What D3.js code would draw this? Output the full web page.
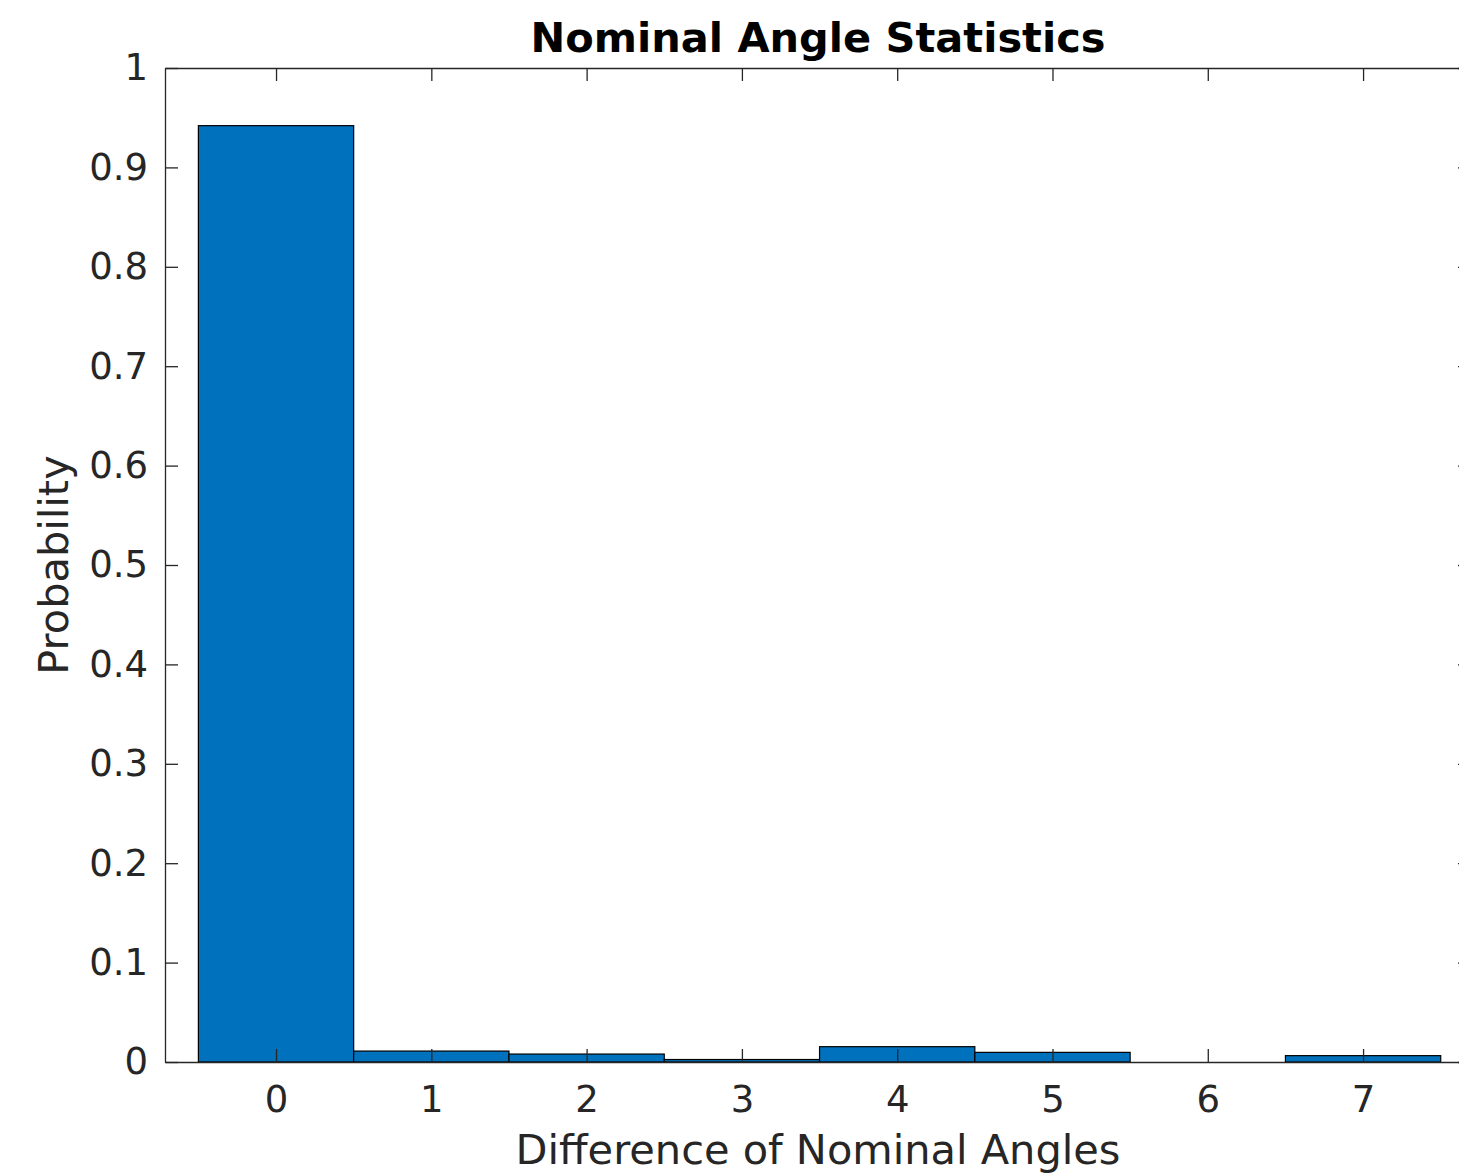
<!DOCTYPE html>
<html>
<head>
<meta charset="utf-8">
<style>
  body { margin: 0; background: #fff; overflow: hidden; }
  svg text { font-family: "DejaVu Sans", sans-serif; fill: #262626; }
  .bar { fill: #0072bd; stroke: #000; stroke-width: 1.2; }
  .axis path, .axis line { stroke: #262626; stroke-width: 1.3; }
</style>
</head>
<body>
<svg width="1459" height="1176"></svg>
<script src="https://cdn.jsdelivr.net/npm/d3@7"></script>
<script>

// histogram bins (difference of nominal angles) and probabilities
var bins = [0, 1, 2, 3, 4, 5, 6, 7];
var probability = [0.942, 0.011, 0.008, 0.0025, 0.0154, 0.0097, 0, 0.0064];
var xTicks = [0, 1, 2, 3, 4, 5, 6, 7];
var yTicks = [0, 0.1, 0.2, 0.3, 0.4, 0.5, 0.6, 0.7, 0.8, 0.9, 1];

var plotLeft = 165, plotRight = 1471, plotTop = 68, plotBottom = 1062;
var tickLen = 13;

var svg = d3.select("svg");

var x = d3.scaleLinear()
  .domain([-0.715, 7.695])
  .range([plotLeft, plotRight]);

var y = d3.scaleLinear()
  .domain([0, 1])
  .range([plotBottom, plotTop]);

// bars
svg.selectAll(".bar")
  .data(bins)
  .join("rect")
  .classed("bar", true)
  .attr("x", function(d) { return x(d - 0.5); })
  .attr("width", function(d) { return x(d + 0.5) - x(d - 0.5); })
  .attr("y", function(d, i) { return y(probability[i]); })
  .attr("height", function(d, i) { return plotBottom - y(probability[i]); });

// bottom axis, ticks pointing in
var xAxis = svg.append("g")
  .attr("class", "axis")
  .attr("transform", "translate(0," + plotBottom + ")")
  .call(d3.axisBottom(x).tickValues(xTicks).tickSizeInner(-tickLen).tickSizeOuter(0).tickPadding(24));
xAxis.selectAll("text").style("font-size", "37px");

// top axis
svg.append("g")
  .attr("class", "axis")
  .attr("transform", "translate(0," + plotTop + ")")
  .call(d3.axisTop(x).tickValues(xTicks).tickSizeInner(-tickLen).tickSizeOuter(0).tickFormat(""));

// left axis
var yAxis = svg.append("g")
  .attr("class", "axis")
  .attr("transform", "translate(" + plotLeft + ",0)")
  .call(d3.axisLeft(y).tickValues(yTicks).tickSizeInner(-tickLen).tickSizeOuter(0).tickPadding(17).tickFormat(d3.format("")));
yAxis.selectAll("text").style("font-size", "37px");

// right axis
svg.append("g")
  .attr("class", "axis")
  .attr("transform", "translate(" + plotRight + ",0)")
  .call(d3.axisRight(y).tickValues(yTicks).tickSizeInner(-tickLen).tickSizeOuter(0).tickFormat(""));

// title and labels
svg.append("text")
  .attr("x", 818)
  .attr("y", 52)
  .attr("text-anchor", "middle")
  .style("font-size", "41.5px")
  .style("font-weight", "bold")
  .style("fill", "#000")
  .text("Nominal Angle Statistics");

svg.append("text")
  .attr("x", 818)
  .attr("y", 1164)
  .attr("text-anchor", "middle")
  .style("font-size", "41.5px")
  .text("Difference of Nominal Angles");

svg.append("text")
  .attr("transform", "translate(68," + ((plotTop + plotBottom) / 2) + ") rotate(-90)")
  .attr("text-anchor", "middle")
  .style("font-size", "41.5px")
  .text("Probability");

</script>
</body>
</html>
